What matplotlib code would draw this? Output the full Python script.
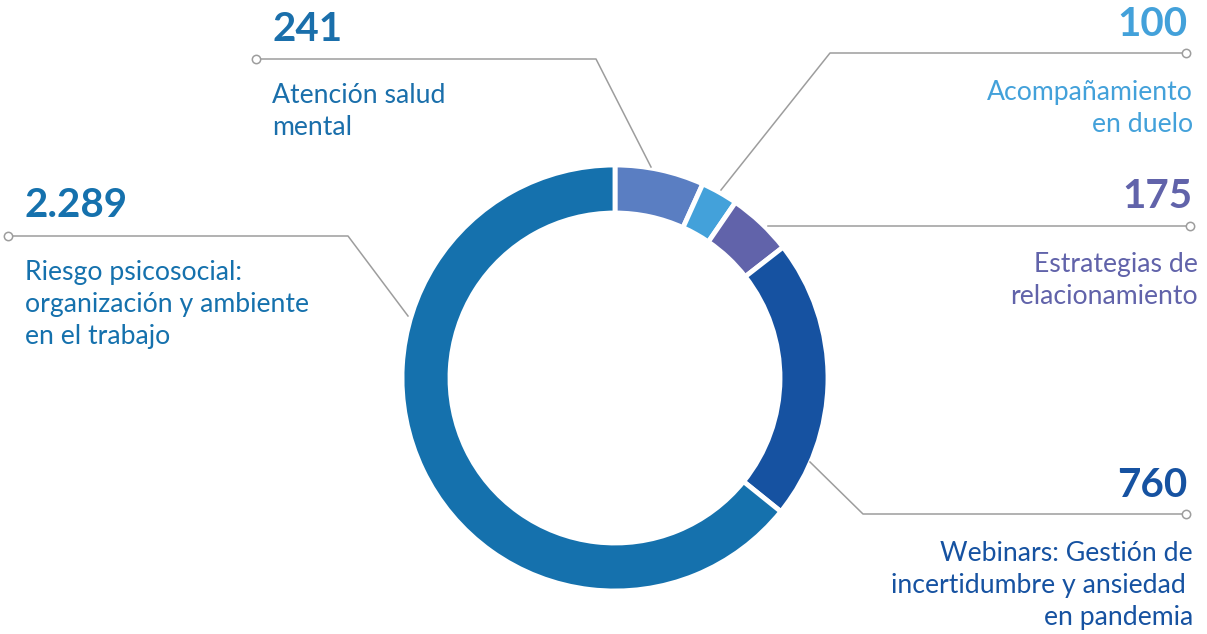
import matplotlib.pyplot as plt

plt.rcParams['font.family'] = ['Lato', 'DejaVu Sans']

# data, clockwise from the top
labels = ['Atención salud\nmental', 'Acompañamiento\nen duelo', 'Estrategias de\nrelacionamiento',
          'Webinars: Gestión de\nincertidumbre y ansiedad \nen pandemia',
          'Riesgo psicosocial:\norganización y ambiente\nen el trabajo']
values = [241, 100, 175, 760, 2289]
value_text = ['241', '100', '175', '760', '2.289']
colors = ['#5a7ec2', '#43a1da', '#6163aa', '#1652a1', '#1571ad']

W, H = 1207, 634
fig = plt.figure(figsize=(W / 100, H / 100), dpi=100)
ax = fig.add_axes([0, 0, 1, 1])

def py(y):
    # pixel row -> data y
    return H - y

ax.pie(values, colors=colors, startangle=90, counterclock=False,
       center=(615, py(378)), radius=213,
       wedgeprops=dict(width=48, edgecolor='white', linewidth=3.5))

ax.set_xlim(0, W)
ax.set_ylim(0, H)
ax.set_aspect('equal')
ax.axis('off')

line_col = '#9d9d9d'
# leader lines (pixel coords), first point is the open circle
leaders = [
    [(256, 59), (596, 59), (651, 167)],
    [(1186, 53), (830, 53), (721, 190)],
    [(1190, 226), (768, 226)],
    [(1186, 514), (863, 514), (810, 462)],
    [(8, 236), (348, 236), (408, 316)],
]
for pts in leaders:
    xs = [p[0] for p in pts]
    ys = [py(p[1]) for p in pts]
    ax.plot(xs, ys, color=line_col, lw=1.1, zorder=1)
    ax.plot(xs[0], ys[0], 'o', ms=6, mfc='white', mec=line_col, mew=1.1, zorder=2)

# text positions: (x, number baseline, label first baseline, align)
text_pos = [
    (272, 41, 103, 'left'),
    (1187, 36, 100, 'right'),
    (1192, 208, 272, 'right'),
    (1187, 497, 561, 'right'),
    (25, 217, 280, 'left'),
]
lab_x = [272, 1193, 1198, 1193, 25]
for i in range(len(values)):
    x, nb, lb, ha = text_pos[i]
    c = colors[i] if i != 0 else '#1a6fab'
    ax.text(x, py(nb), value_text[i], color=c,
            fontsize=29, fontweight='bold', ha=ha, va='baseline')
    for k, line in enumerate(labels[i].split('\n')):
        ax.text(lab_x[i], py(lb + 32 * k), line, color=c,
                fontsize=19.2, ha=ha, va='baseline')

fig.savefig('out.png', dpi=100, facecolor='white')
